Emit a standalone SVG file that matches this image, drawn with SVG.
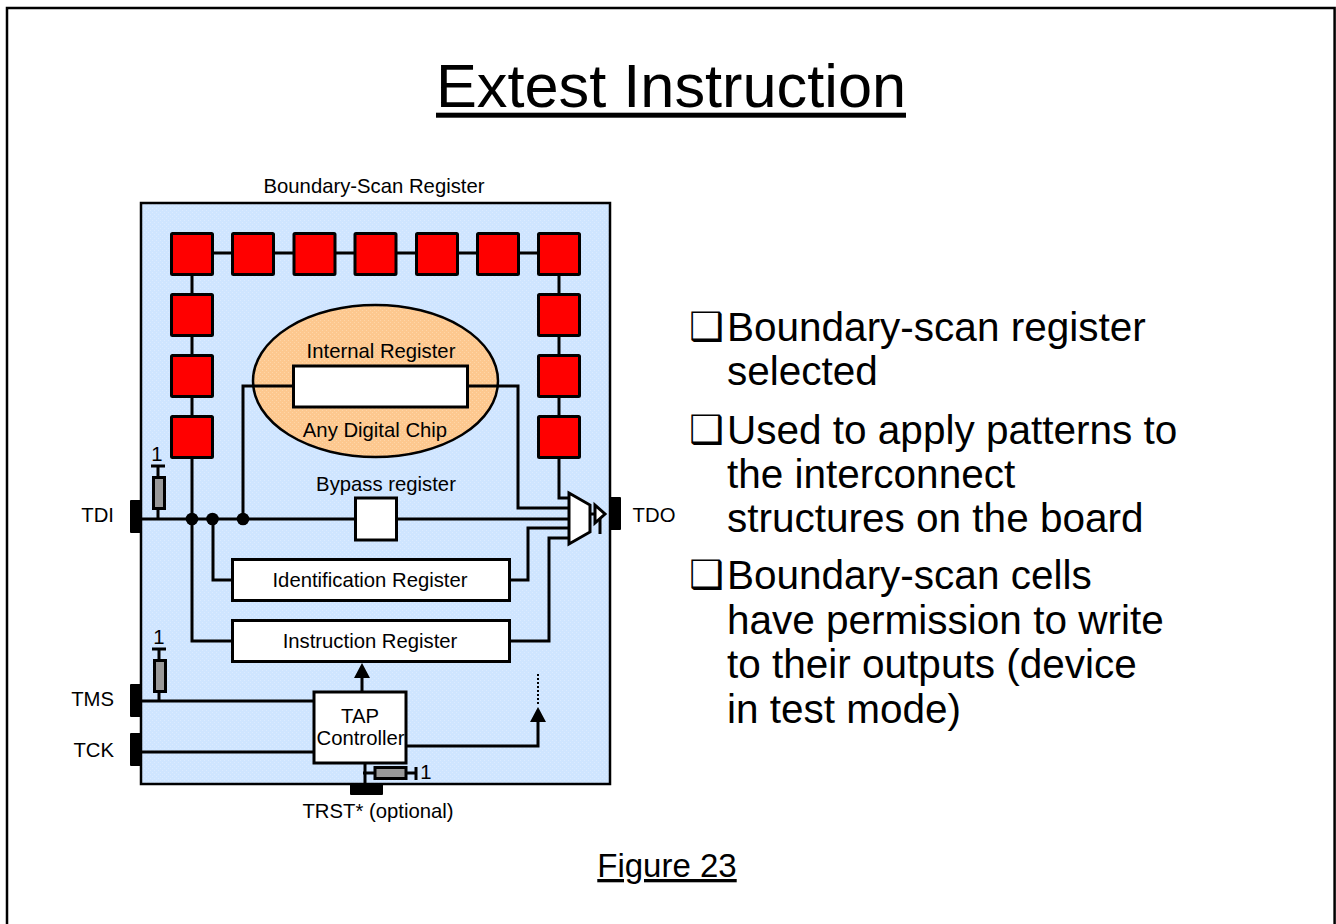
<svg xmlns="http://www.w3.org/2000/svg" width="1336" height="924" viewBox="0 0 1336 924">
<style>
text{font-family:"Liberation Sans",Arial,sans-serif;fill:#000}
.s{font-size:20.3px}
.c{text-anchor:middle}
.e{text-anchor:end}
.b{font-size:40.5px}
.q{font-size:39px;font-family:"DejaVu Sans",sans-serif}
.w{fill:none;stroke:#000;stroke-width:3}
.box{fill:#fff;stroke:#000;stroke-width:3}
.red{fill:#f00;stroke:#000;stroke-width:3}
.res{fill:#999;stroke:#000;stroke-width:3}
.pin{fill:#000}
</style>
<defs>
<pattern id="dots" width="4" height="4" patternUnits="userSpaceOnUse"><rect width="4" height="4" fill="#cfe5ff"/><rect width="1" height="1" fill="#dcebff"/><rect x="2" y="2" width="1" height="1" fill="#dcebff"/></pattern>
<pattern id="dots2" width="4" height="4" patternUnits="userSpaceOnUse"><rect width="4" height="4" fill="#fdc88f"/><rect width="1" height="1" fill="#ffd6a8"/><rect x="2" y="2" width="1" height="1" fill="#ffd6a8"/></pattern>
<rect id="cell" width="41" height="41" class="red" rx="1"/>
</defs>
<path id="frame" d="M7 924V8H1334.600V924" fill="none" stroke="#000" stroke-width="2.500"/>
<g id="title"><text x="671" y="107" font-size="61.300" class="c">Extest Instruction</text><rect x="436" y="112.700" width="470" height="5" fill="#000"/></g>
<g id="chip"><rect x="141" y="203" width="469" height="581" fill="url(#dots)" stroke="#000" stroke-width="2.500"/></g>
<text x="374" y="193" class="s c">Boundary-Scan Register</text>
<g id="ellipse"><ellipse cx="375.500" cy="381" rx="122.500" ry="76" fill="url(#dots2)" stroke="#000" stroke-width="2.500"/></g>
<g id="connectors">
<path class="w" d="M192 253H559M192 253V641H232M559 253V498H568M213 519V580H232M142 519H568M243 519V386H293M468 386H518V508H568M510 580H528V528H568M510 641H549V538H568M158 519V466M151 466H165M159 701V649M152 649H166M142 701H314M142 752H314M362 692V675M406 746H538V720M365 763V784M363 773H375M406 773H416M416 767V780M590 514H595"/>
<path d="M600 519V534" class="w" stroke-width="2"/>
<path d="M538 674V704" fill="none" stroke="#000" stroke-width="2" stroke-dasharray="2 2"/>
<polygon points="362,663 370,678 354,678" fill="#000"/>
<polygon points="538,707 546,722 530,722" fill="#000"/>
<circle cx="192" cy="519" r="6.300"/><circle cx="212.500" cy="519" r="6.300"/><circle cx="243" cy="519" r="6.300"/>
</g>
<g id="bs-cells">
<use href="#cell" x="171.500" y="233.500"/><use href="#cell" x="232.500" y="233.500"/><use href="#cell" x="294" y="233.500"/><use href="#cell" x="355" y="233.500"/><use href="#cell" x="416.500" y="233.500"/><use href="#cell" x="477.500" y="233.500"/><use href="#cell" x="538.500" y="233.500"/>
<use href="#cell" x="171.500" y="294.500"/><use href="#cell" x="171.500" y="355.500"/><use href="#cell" x="171.500" y="416.500"/>
<use href="#cell" x="538.500" y="294.500"/><use href="#cell" x="538.500" y="355.500"/><use href="#cell" x="538.500" y="416.500"/>
</g>
<g id="internal-register"><rect x="293.500" y="366" width="174" height="41" class="box"/><text x="381" y="358" class="s c">Internal Register</text><text x="375" y="436.500" class="s c">Any Digital Chip</text></g>
<g id="bypass"><rect x="355.500" y="498" width="41" height="42" class="box"/><text x="386" y="491" class="s c">Bypass register</text></g>
<g id="identification"><rect x="232.500" y="559.500" width="277" height="41" class="box"/><text x="370" y="587" class="s c">Identification Register</text></g>
<g id="instruction"><rect x="232.500" y="620.500" width="277" height="41" class="box"/><text x="370" y="648" class="s c">Instruction Register</text></g>
<g id="tap"><rect x="314" y="692" width="92" height="71" class="box"/><text x="360" y="722.500" class="s c">TAP</text><text x="360.500" y="745" class="s c">Controller</text></g>
<g id="mux"><polygon points="569,493 590,505 590,532 569,544" class="box"/><polygon points="595,505 605,514 595,523" class="box"/></g>
<g id="res-tdi"><rect x="153.500" y="477.500" width="11" height="31" class="res"/><text x="157" y="461" class="s c">1</text></g>
<g id="res-tms"><rect x="154.500" y="660.500" width="11" height="31" class="res"/><text x="159" y="644" class="s c">1</text></g>
<g id="res-trst"><rect x="375" y="767.500" width="31" height="11" class="res"/><text x="426" y="779" class="s c">1</text></g>
<g id="pin-tdi"><rect x="130" y="500" width="12" height="33" rx="1" class="pin"/><text x="114" y="521.500" class="s e">TDI</text></g>
<g id="pin-tdo"><rect x="609" y="497" width="12" height="33" rx="1" class="pin"/><text x="654" y="521.500" class="s c">TDO</text></g>
<g id="pin-tms"><rect x="130" y="684" width="12" height="33" rx="1" class="pin"/><text x="114" y="706" class="s e">TMS</text></g>
<g id="pin-tck"><rect x="130" y="733" width="12" height="33" rx="1" class="pin"/><text x="114" y="757" class="s e">TCK</text></g>
<g id="pin-trst"><rect x="350" y="784" width="33" height="11" rx="1" class="pin"/><text x="378" y="818" class="s c">TRST* (optional)</text></g>
<g id="bullets">
<text x="689" y="340" class="q">❑</text>
<text x="727" y="341" class="b">Boundary-scan register</text>
<text x="727" y="385" class="b">selected</text>
<text x="689" y="443" class="q">❑</text>
<text x="727" y="444" class="b">Used to apply patterns to</text>
<text x="727" y="488.300" class="b">the interconnect</text>
<text x="727" y="532" class="b">structures on the board</text>
<text x="689" y="588" class="q">❑</text>
<text x="727" y="589.300" class="b">Boundary-scan cells</text>
<text x="727" y="634" class="b">have permission to write</text>
<text x="727" y="678" class="b">to their outputs (device</text>
<text x="727" y="722.700" class="b">in test mode)</text>
</g>
<g id="figure"><text x="667" y="877" font-size="33" class="c" text-decoration="underline">Figure 23</text></g>
</svg>
